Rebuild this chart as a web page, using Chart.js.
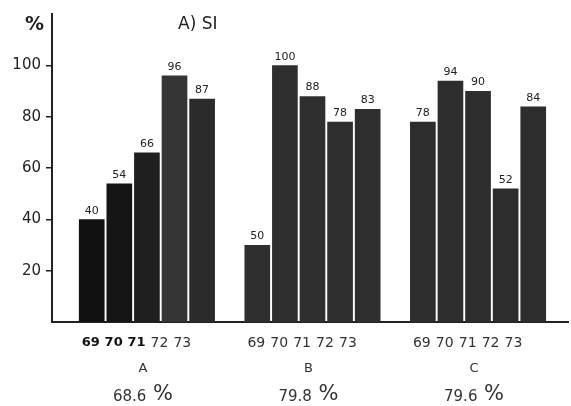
<!DOCTYPE html>
<html>
<head>
<meta charset="utf-8">
<script src="https://cdn.jsdelivr.net/npm/chart.js@4.4.1/dist/chart.umd.min.js"></script>
<style>
  html, body { margin: 0; padding: 0; background: #fff; }
</style>
</head>
<body>
<canvas id="chart" width="571" height="406"></canvas>
<script>
// data
const years = ['69', '70', '71', '72', '73'];
const groups = ['A', 'B', 'C'];
const groupMeans = ['68.6', '79.8', '79.6'];
const valuesA = [40, 54, 66, 96, 87];
const valuesB = [30, 100, 88, 78, 83];
const valuesC = [78, 94, 90, 52, 84];
// numbers printed over the bars (first B bar is printed "50")
const printedA = [40, 54, 66, 96, 87];
const printedB = [50, 100, 88, 78, 83];
const printedC = [78, 94, 90, 52, 84];
const yTicks = [20, 40, 60, 80, 100];

const groupValues = [valuesA, valuesB, valuesC];
const groupPrinted = [printedA, printedB, printedC];

// bar shades (A gets darker for the first years, like the print)
const shades = [
  ['#111111', '#151515', '#1f1f1f', '#353535', '#2b2b2b'],
  ['#2f2f2f', '#2f2f2f', '#2f2f2f', '#2f2f2f', '#2f2f2f'],
  ['#2d2d2d', '#2d2d2d', '#2d2d2d', '#2d2d2d', '#2d2d2d']
];

const points = [];
const colors = [];
const printed = [];
groupValues.forEach((vals, g) => {
  vals.forEach((v, i) => {
    points.push({ x: g * 6 + i, y: v });
    colors.push(shades[g][i]);
    printed.push(groupPrinted[g][i]);
  });
});

const ink = '#222';

// texte autour du graphique
const labelsPlugin = {
  id: 'labelsPlugin',
  afterDraw(chart) {
    const c = chart.ctx;
    const xs = chart.scales.x;
    const meta = chart.getDatasetMeta(0);
    c.save();
    c.fillStyle = ink;
    c.textAlign = 'center';

    // numbers over bars
    c.font = '11px "DejaVu Sans"';
    c.textBaseline = 'bottom';
    meta.data.forEach((bar, k) => {
      c.fillText(String(printed[k]), bar.x, bar.y - 3);
    });

    // years, group letter, mean
    c.textBaseline = 'middle';
    groups.forEach((name, g) => {
      years.forEach((yr, i) => {
        const x = xs.getPixelForValue(g * 6 + i * 0.83) - 1;
        if (g === 0 && i < 3) {
          c.font = 'bold 13px "DejaVu Sans"';
          c.fillStyle = '#111';
        } else {
          c.font = '14px "DejaVu Sans"';
          c.fillStyle = '#333';
        }
        c.fillText(yr, x, 343);
      });
      c.fillStyle = '#333';
      const mid = xs.getPixelForValue(g * 6 + 2) - 4;
      c.font = '13px "DejaVu Sans"';
      c.fillText(name, mid, 369);

      c.font = '15px "DejaVu Sans"';
      const num = groupMeans[g];
      const pct = ' %';
      const w1 = c.measureText(num).width;
      c.font = '21px "DejaVu Sans"';
      const w2 = c.measureText(pct).width;
      const left = mid - (w1 + w2) / 2;
      c.textAlign = 'left';
      c.font = '15px "DejaVu Sans"';
      c.fillText(num, left, 397);
      c.font = '21px "DejaVu Sans"';
      c.fillText(pct, left + w1, 395);
      c.textAlign = 'center';
    });

    // unit and title
    c.fillStyle = ink;
    c.textAlign = 'left';
    c.font = 'bold 19px "DejaVu Sans"';
    c.fillText('%', 25, 25);
    c.font = '17px "DejaVu Sans"';
    c.fillText('A) SI', 178, 25);
    c.restore();
  }
};

const ctx = document.getElementById('chart').getContext('2d');
new Chart(ctx, {
  type: 'bar',
  data: {
    datasets: [{
      data: points,
      backgroundColor: colors,
      borderWidth: 0,
      barPercentage: 0.93,
      categoryPercentage: 1
    }]
  },
  options: {
    responsive: false,
    animation: false,
    devicePixelRatio: 1,
    layout: { padding: { top: 7, right: 3, bottom: 84, left: 0 } },
    plugins: {
      legend: { display: false },
      tooltip: { enabled: false }
    },
    scales: {
      x: {
        type: 'linear',
        offset: false,
        min: -1.44,
        max: 17.26,
        ticks: { display: false },
        grid: { display: true, drawOnChartArea: false, drawTicks: false },
        border: { color: ink, width: 2 }
      },
      y: {
        min: 0,
        max: 120,
        afterBuildTicks(scale) {
          scale.ticks = yTicks.map(v => ({ value: v }));
        },
        afterFit(scale) { scale.width = 52; },
        ticks: {
          color: ink,
          padding: 5,
          font: { family: 'DejaVu Sans', size: 15 }
        },
        grid: { drawOnChartArea: false, drawTicks: true, tickLength: 6, color: ink, lineWidth: 1.5 },
        border: { color: ink, width: 2 }
      }
    }
  },
  plugins: [labelsPlugin]
});
</script>
</body>
</html>
